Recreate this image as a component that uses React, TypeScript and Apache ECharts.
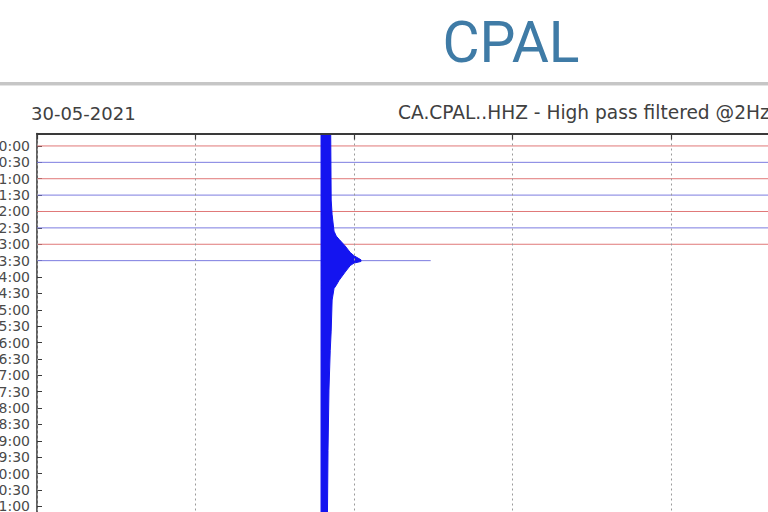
import React, { useEffect, useRef } from "react";
import * as echarts from "echarts";

// Row start times (each helicorder row = 30 minutes)
const rowLabels = [
  "00:00", "00:30", "01:00", "01:30", "02:00", "02:30", "03:00", "03:30",
  "04:00", "04:30", "05:00", "05:30", "06:00", "06:30", "07:00", "07:30",
  "08:00", "08:30", "09:00", "09:30", "10:00", "10:30", "11:00", "11:30",
  "12:00", "12:30", "13:00", "13:30", "14:00", "14:30", "15:00", "15:30",
  "16:00", "16:30", "17:00", "17:30", "18:00", "18:30", "19:00", "19:30",
  "20:00", "20:30", "21:00", "21:30", "22:00", "22:30", "23:00", "23:30",
];
const rowIndex = rowLabels.map((_, i) => i);

// Minutes of data recorded in each row that has data
const rowEndMinutes = [30, 30, 30, 30, 30, 30, 30, 12.42];

// Earthquake envelope (row 03:30): minute within row, amplitude above / below baseline (in rows)
const eventRow = 7;
const eventTimes = [8.96, 9.12, 9.18, 9.21, 9.25, 9.28, 9.31, 9.37, 9.44, 9.53, 9.72, 9.88, 10.0, 10.22];
const eventUpper = [12, 12, 12, 12, 12, 3.7, 2.8, 1.8, 1.5, 1.3, 0.9, 0.5, 0.3, 0.05];
const eventLower = [25, 25, 11.6, 7.9, 5.5, 4.3, 2.4, 1.7, 1.5, 1.2, 0.7, 0.3, 0.15, 0.05];

const xTicks = { min: 0, max: 30, interval: 5 };

const stationName = "CPAL";
const dateText = "30-05-2021";
const channelText = "CA.CPAL..HHZ - High pass filtered @2Hz";

export default function App() {
  const ref = useRef<HTMLDivElement>(null);

  useEffect(() => {
    if (!ref.current) return;
    const chart = echarts.init(ref.current, undefined, { renderer: "svg" });
    const rowColors = ["#e07878", "#7c7ce0"];

    const rowSeries = rowEndMinutes.map((end, i) => ({
      type: "line",
      data: [
        [0, i],
        [end, i],
      ],
      symbol: "none",
      silent: true,
      lineStyle: { color: rowColors[i % 2], width: 1 },
      z: 2,
    }));

    const option: any = {
      animation: false,
      backgroundColor: "#ffffff",
      grid: {
        left: 37,
        top: 133.5,
        width: 951,
        height: 795,
        containLabel: false,
        outerBoundsMode: "none",
      },
      xAxis: {
        type: "value",
        position: "top",
        min: xTicks.min,
        max: xTicks.max,
        interval: xTicks.interval,
        axisLine: { show: true, onZero: false, lineStyle: { color: "#3a3a3a", width: 1.8 } },
        axisTick: { show: true, inside: true, length: 6, lineStyle: { color: "#3a3a3a", width: 1.2 } },
        axisLabel: { show: false },
        splitLine: { show: true, lineStyle: { color: "#9a9a9a", type: [2, 3], width: 1 } },
        z: 10,
      },
      yAxis: {
        type: "value",
        inverse: true,
        min: -0.76,
        max: 47.76,
        axisLine: { show: true, onZero: false, lineStyle: { color: "#3a3a3a", width: 1.6 } },
        axisTick: {
          show: true,
          inside: true,
          length: 5,
          customValues: rowIndex,
          lineStyle: { color: "#3a3a3a", width: 1 },
        },
        axisLabel: {
          show: true,
          customValues: rowIndex,
          formatter: (v: number) => rowLabels[Math.round(v)] ?? "",
          color: "#4a4a4a",
          fontFamily: "DejaVu Sans",
          fontSize: 14,
          margin: 7,
        },
        splitLine: { show: false },
      },
      graphic: [
        { type: "rect", left: 0, top: 82, shape: { width: 768, height: 3 }, style: { fill: "#c6c6c6" } },
        { type: "rect", left: 0, top: 85, shape: { width: 768, height: 1 }, style: { fill: "#e4e4e4" } },
        {
          type: "text",
          x: 511,
          y: 42,
          style: {
            text: stationName,
            fill: "#3f7ba6",
            font: "normal 57px Roboto",
            textAlign: "center",
            textVerticalAlign: "middle",
          },
        },
        {
          type: "text",
          x: 31,
          y: 113,
          style: {
            text: dateText,
            fill: "#404040",
            font: "normal 18px 'DejaVu Sans'",
            textAlign: "left",
            textVerticalAlign: "middle",
          },
        },
        {
          type: "text",
          x: 398,
          y: 112,
          style: {
            text: channelText,
            fill: "#404040",
            font: "normal 18.6px 'DejaVu Sans'",
            textAlign: "left",
            textVerticalAlign: "middle",
          },
        },
      ],
      series: [
        ...rowSeries,
        {
          type: "custom",
          clip: true,
          silent: true,
          z: 5,
          data: [[eventTimes[0], eventRow]],
          renderItem: (_params: any, api: any) => {
            const pts: number[][] = [];
            eventTimes.forEach((t, k) => pts.push(api.coord([t, eventRow - eventUpper[k]])));
            for (let k = eventTimes.length - 1; k >= 0; k--) {
              pts.push(api.coord([eventTimes[k], eventRow + eventLower[k]]));
            }
            return {
              type: "polygon",
              shape: { points: pts },
              style: { fill: "#1414f0", stroke: "#1414f0", lineWidth: 1 },
            };
          },
        },
      ],
    };

    chart.setOption(option);
    return () => chart.dispose();
  }, []);

  return (
    <div
      ref={ref}
      style={{ position: "fixed", left: 0, top: 0, width: 768, height: 512, background: "#fff" }}
    />
  );
}
